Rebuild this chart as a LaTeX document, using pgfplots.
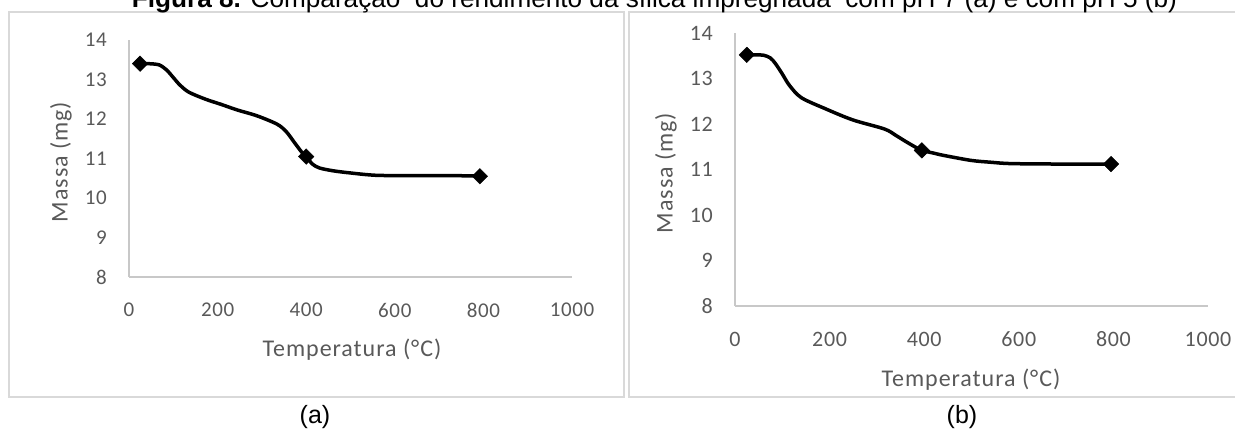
\documentclass[border=0pt]{standalone}
\usepackage{pgfplots}
\pgfplotsset{compat=1.18}
\usepackage{pgfplotstable}
\usepackage{graphicx}
\usepackage{fontspec}
\setmainfont{Carlito}
\newfontfamily\tickfont[LetterSpace=3]{Carlito}
\newfontfamily\titfont[LetterSpace=4]{Carlito}
\newfontfamily\arial{Liberation Sans}
\definecolor{txt}{HTML}{595959}
\definecolor{axl}{HTML}{C8C8C8}
\definecolor{frm}{HTML}{D9D9D9}

\pgfplotstableread{
x y
25 13.40
45 13.40
68 13.37
85 13.24
100 13.05
115 12.86
135 12.68
173 12.50
208 12.37
244 12.23
289 12.08
334 11.87
355 11.68
375 11.38
390 11.16
400 11.05
414 10.86
430 10.76
460 10.69
495 10.64
557 10.575
647 10.565
736 10.565
792 10.555
}\curveA
\pgfplotstableread{
x y
25 13.40
400 11.05
792 10.55
}\marksA
\pgfplotstableread{
x y
25 13.52
45 13.52
61 13.51
75 13.45
86 13.32
100 13.10
115 12.85
140 12.58
190 12.34
249 12.09
316 11.89
340 11.75
357 11.64
380 11.50
395 11.42
420 11.36
441 11.31
499 11.20
540 11.16
583 11.13
683 11.12
795 11.12
}\curveB
\pgfplotstableread{
x y
25 13.52
395 11.42
795 11.12
}\marksB

\pgfplotsset{excel/.style={
  scale only axis,
  xmin=0, xmax=1000, ymin=8, ymax=14,
  xtick={0,200,400,600,800,1000},
  ytick={8,9,10,11,12,13,14},
  axis x line=bottom, axis y line=left,
  axis line style={draw=axl, line width=1.5pt, -},
  major tick length=0pt, tick style={draw=none},
  clip=false,
  /pgf/number format/1000 sep={},
  /pgf/number format/assume math mode=true,
  xticklabel style={anchor=center, yshift=-33pt, inner sep=0pt, text=txt, font=\tickfont\fontsize{21pt}{25pt}\selectfont},
  yticklabel style={anchor=east, xshift=-22pt, inner sep=0pt, text=txt, font=\tickfont\fontsize{21pt}{25pt}\selectfont},
}}

\begin{document}
\begin{tikzpicture}[x=1pt,y=1pt]
% frames
\draw[frm, line width=1.2pt] (9,33) rectangle (624,418);
\draw[frm, line width=1.2pt] (629,33) rectangle (1250,418);
% title
\node[anchor=base, inner sep=0pt] at (654.5,422.5) {\resizebox{1045pt}{\height}{\arial\fontsize{26pt}{30pt}\selectfont\textbf{Figura 8.} Comparação~ do rendimento da sílica impregnada~ com pH 7 (a) e com pH 5 (b)}};

\begin{axis}[excel, at={(129pt,153pt)}, anchor=south west, width=443pt, height=237pt]
\addplot[black, line width=3.5pt, smooth, tension=0.5] table {\curveA};
\addplot[only marks, mark=square*, mark size=5.5pt, mark options={rotate=45, fill=black, draw=black}] table {\marksA};
\end{axis}

\begin{axis}[excel, at={(735pt,124pt)}, anchor=south west, width=473pt, height=273pt,
  xticklabel style={font=\tickfont\fontsize{22pt}{26pt}\selectfont},
  yticklabel style={font=\tickfont\fontsize{22pt}{26pt}\selectfont}]
\addplot[black, line width=3.5pt, smooth, tension=0.5] table {\curveB};
\addplot[only marks, mark=square*, mark size=5.5pt, mark options={rotate=45, fill=black, draw=black}] table {\marksB};
\end{axis}

% axis titles
\node[text=txt, font=\titfont\fontsize{24pt}{28pt}\selectfont] at (352,80) {Temperatura (°C)};
\node[text=txt, font=\titfont\fontsize{24pt}{28pt}\selectfont, rotate=90] at (61,268) {Massa (mg)};
\node[text=txt, font=\titfont\fontsize{24pt}{28pt}\selectfont] at (971,50) {Temperatura (°C)};
\node[text=txt, font=\titfont\fontsize{24pt}{28pt}\selectfont, rotate=90] at (666,257) {Massa (mg)};
% captions
\node[anchor=base, inner sep=0pt, font=\arial\fontsize{25pt}{30pt}\selectfont] at (315,6) {(a)};
\node[anchor=base, inner sep=0pt, font=\arial\fontsize{25pt}{30pt}\selectfont] at (962,6) {(b)};

\pgfresetboundingbox
\path (0,0) rectangle (1235,430);
\end{tikzpicture}
\end{document}
